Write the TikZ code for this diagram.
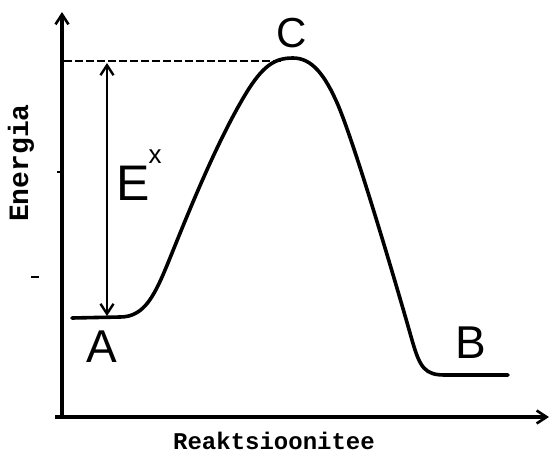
\documentclass[tikz,border=0pt]{standalone}
\usepackage{fontspec}
\setmainfont{Liberation Sans}
\newfontfamily\typew{Liberation Mono}
\usetikzlibrary{arrows.meta}
\tikzset{
  axisline/.style={line width=3.2pt, -{Straight Barb[length=10pt,width=13pt,line width=2.6pt]}},
  curveline/.style={line width=3.6pt, line cap=round, line join=round},
  guide/.style={line width=1.3pt, dash pattern=on 8pt off 3pt},
  gap/.style={line width=2.4pt, {Straight Barb[length=10pt,width=13pt,line width=2.4pt]}-{Straight Barb[length=10pt,width=13pt,line width=2.4pt]}},
  hand/.style={font=\fontsize{46}{46}\selectfont, inner sep=0pt},
  tick/.style={line width=2pt},
}
\begin{document}
\begin{tikzpicture}[x=1pt,y=-1pt]
\useasboundingbox (0,0) rectangle (550,459);
% axes
\coordinate (origin) at (62,417);
\coordinate (ytop) at (62,12);
\coordinate (xend) at (549,417);
\coordinate (xstart) at (55,417);
\draw[axisline] (origin) -- (ytop);
\draw[axisline] (xstart) -- (xend);
% ticks
\coordinate (t1a) at (57,172); \coordinate (t1b) at (62,172);
\draw[tick] (t1a) -- (t1b);
\coordinate (t2a) at (31,277); \coordinate (t2b) at (39,277);
\draw[tick] (t2a) -- (t2b);
% dashed level
\coordinate (dl) at (64,61);
\coordinate (dr) at (282,61);
\draw[guide] (dl) -- (dr);
% activation energy arrow
\coordinate (etop) at (107,63);
\coordinate (ebot) at (107,316);
\draw[gap] (etop) -- (ebot);
% energy curve
\coordinate (p0) at (72,318);
\coordinate (p1) at (120,317);
\coordinate (p2) at (170,258);
\coordinate (p3) at (245,95);
\coordinate (p4) at (293,58);
\coordinate (p5) at (338,105);
\coordinate (p6) at (412,340);
\coordinate (p7) at (445,375);
\coordinate (p8) at (508,375);
\draw[curveline] (p0) -- (p1)
  .. controls (145,317) and (155,295) .. (p2)
  .. controls (185,221) and (215,145) .. (p3)
  .. controls (263,65) and (275,58) .. (p4)
  .. controls (312,58) and (325,75) .. (p5)
  .. controls (355,145) and (395,280) .. (p6)
  .. controls (420,368) and (425,375) .. (p7)
  -- (p8);
% labels
\node[hand] (A) at (102,347) {A};
\node[hand, font=\fontsize{42}{42}\selectfont] (C) at (292,33) {C};
\node[hand] (B) at (471,343) {B};
\node[hand, font=\fontsize{50}{50}\selectfont, anchor=base west] (E) at (116,200) {E};
\node[font=\fontsize{26}{26}\selectfont, inner sep=0pt] (x) at (155,157) {x};
\node[font=\typew\bfseries\fontsize{28}{28}\selectfont, rotate=90, inner sep=0pt] (ylab) at (21,163) {Energia};
\node[font=\typew\bfseries\fontsize{24}{24}\selectfont, inner sep=0pt] (xlab) at (274,441) {Reaktsioonitee};
\end{tikzpicture}
\end{document}
